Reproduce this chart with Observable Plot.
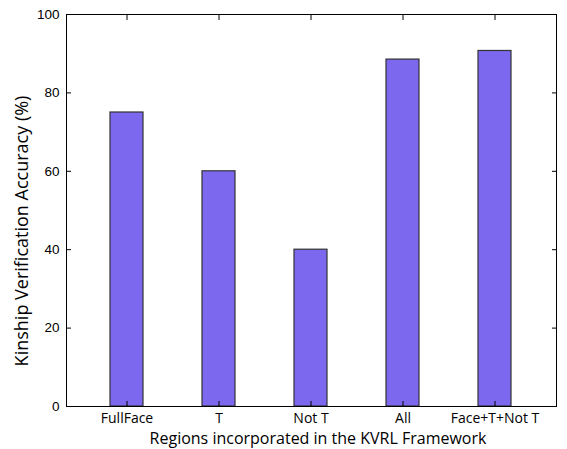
<!DOCTYPE html>
<html>
<head>
<meta charset="utf-8">
<script src="https://cdn.jsdelivr.net/npm/d3@7"></script>
<script src="https://cdn.jsdelivr.net/npm/@observablehq/plot@0.6"></script>
<style>
  html, body { margin: 0; padding: 0; background: #fff; }
  #chart svg { display: block; }
</style>
</head>
<body>
<div id="chart"></div>
<script>
const categories = ["FullFace", "T", "Not T", "All", "Face+T+Not T"];
const accuracy = [75, 60, 40, 88.5, 90.7];
const yTicks = [0, 20, 40, 60, 80, 100];
const xLabel = "Regions incorporated in the KVRL Framework";
const yLabel = "Kinship Verification Accuracy (%)";

const data = categories.map((c, i) => ({category: c, value: accuracy[i]}));
const labelFont = "'Open Sans', sans-serif";

const chart = Plot.plot({
  width: 567,
  height: 449,
  marginLeft: 66,
  marginRight: 11,
  marginTop: 14,
  marginBottom: 43,
  style: {background: "#fff", color: "#000"},
  x: {domain: categories, paddingInner: 0.64, paddingOuter: 0.483, align: 0.5},
  y: {domain: [0, 100]},
  marks: [
    Plot.barY(data, {x: "category", y: "value", fill: "#7B68EE", stroke: "#333", strokeWidth: 1.2}),
    Plot.axisY({anchor: "left", ticks: yTicks, tickSize: -5, tickPadding: 12, label: null,
      fontSize: 13.5, fontFamily: "'Liberation Sans', Arial, sans-serif", stroke: "#000"}),
    Plot.axisY({anchor: "right", ticks: yTicks, tickSize: -5, text: null, label: null}),
    Plot.axisX({anchor: "bottom", tickSize: -5, tickPadding: 12, label: null,
      fontSize: 14, fontFamily: labelFont}),
    Plot.axisX({anchor: "top", tickSize: -5, text: null, label: null}),
    Plot.frame({stroke: "#000", strokeWidth: 1})
  ]
});

// axis titles as real text via SVG
const svg = d3.select(chart);
svg.append("text")
  .attr("x", 318).attr("y", 444)
  .attr("text-anchor", "middle")
  .attr("font-family", labelFont).attr("font-size", 16).attr("fill", "#000")
  .text(xLabel);
svg.append("text")
  .attr("transform", "translate(28, 231) rotate(-90)")
  .attr("text-anchor", "middle")
  .attr("font-family", labelFont).attr("font-size", 18).attr("fill", "#000")
  .text(yLabel);

document.getElementById("chart").appendChild(chart);
</script>
</body>
</html>
